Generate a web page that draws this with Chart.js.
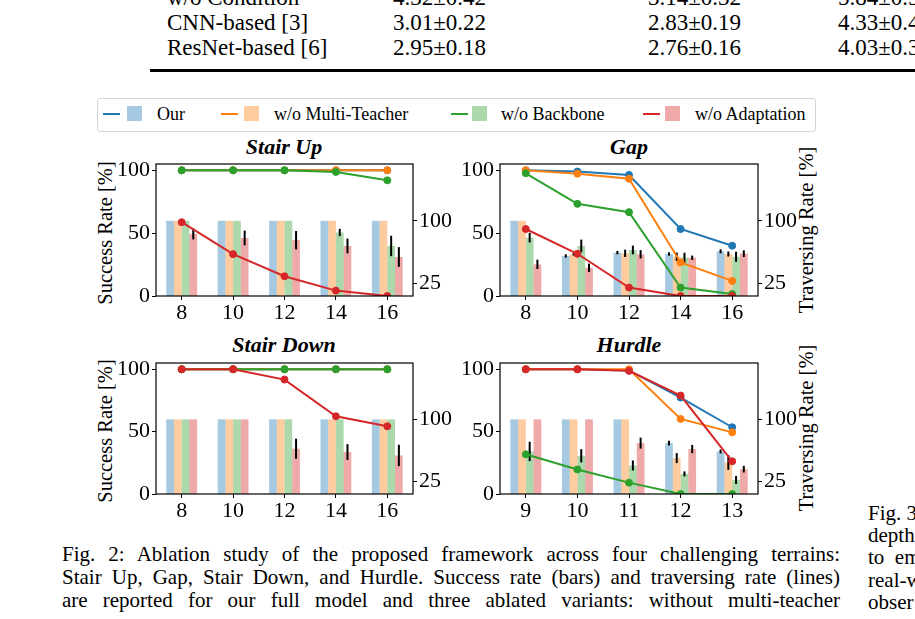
<!DOCTYPE html>
<html>
<head>
<meta charset="utf-8">
<script src="https://cdn.jsdelivr.net/npm/chart.js@4.4.1/dist/chart.umd.min.js"></script>
<style>
  html, body { margin:0; padding:0; background:#fff; }
  body { width:915px; height:619px; overflow:hidden; position:relative; font-family:'Liberation Serif','Times New Roman',serif; color:#000; }
  .abs { position:absolute; white-space:nowrap; }
  .ttl { position:absolute; white-space:nowrap; font-style:italic; font-weight:bold; font-size:22px; transform:translate(-50%,-50%); }
  .ylab { position:absolute; white-space:nowrap; font-size:20.5px; transform:translate(-50%,-50%) rotate(-90deg); }
  .cell { position:absolute; white-space:nowrap; font-size:23px; line-height:25px; }
  .cap { position:absolute; left:62px; width:778px; font-size:21px; line-height:23px; text-align:justify; text-align-last:justify; white-space:nowrap; }
  .side { position:absolute; left:868px; font-size:21px; line-height:22px; white-space:nowrap; }
  canvas { position:absolute; }
  .lg-line { position:absolute; height:2px; width:17px; }
  .lg-sq { position:absolute; width:15px; height:15px; }
  .lg-txt { position:absolute; font-size:18px; line-height:20px; white-space:nowrap; }
</style>
</head>
<body>

<!-- table fragment -->
<div class="cell" style="left:167px; top:-15px;">w/o Condition</div>
<div class="cell" style="left:393px; top:-15px;">4.32±0.42</div>
<div class="cell" style="left:648px; top:-15px;">3.14±0.32</div>
<div class="cell" style="left:838px; top:-15px;">5.84±0.5</div>
<div class="cell" style="left:167px; top:10px;">CNN-based [3]</div>
<div class="cell" style="left:393px; top:10px;">3.01±0.22</div>
<div class="cell" style="left:648px; top:10px;">2.83±0.19</div>
<div class="cell" style="left:838px; top:10px;">4.33±0.4</div>
<div class="cell" style="left:167px; top:35px;">ResNet-based [6]</div>
<div class="cell" style="left:393px; top:35px;">2.95±0.18</div>
<div class="cell" style="left:648px; top:35px;">2.76±0.16</div>
<div class="cell" style="left:838px; top:35px;">4.03±0.3</div>
<div class="abs" style="left:150px; top:69px; width:765px; height:3px; background:#000;"></div>

<!-- legend -->
<div class="abs" style="left:97px; top:98px; width:717px; height:32px; border:1px solid #d6d6d6; border-radius:3px;"></div>
<div id="legend"></div>

<!-- subplot titles -->
<div class="ttl" style="left:284px; top:147px;">Stair Up</div>
<div class="ttl" style="left:629px; top:147px;">Gap</div>
<div class="ttl" style="left:284px; top:345px;">Stair Down</div>
<div class="ttl" style="left:629px; top:345px;">Hurdle</div>

<!-- axis titles -->
<div class="ylab" style="left:105px; top:233px;">Success Rate [%]</div>
<div class="ylab" style="left:105px; top:431px;">Success Rate [%]</div>
<div class="ylab" style="left:806px; top:230px;">Traversing Rate [%]</div>
<div class="ylab" style="left:806px; top:428px;">Traversing Rate [%]</div>

<canvas id="c0" width="367" height="182" style="left:96px; top:144px;"></canvas>
<canvas id="c1" width="368" height="182" style="left:440px; top:144px;"></canvas>
<canvas id="c2" width="367" height="181" style="left:96px; top:343px;"></canvas>
<canvas id="c3" width="368" height="181" style="left:440px; top:343px;"></canvas>

<!-- caption -->
<div class="cap" style="top:543px;">Fig. 2: Ablation study of the proposed framework across four challenging terrains:</div>
<div class="cap" style="top:566px;">Stair Up, Gap, Stair Down, and Hurdle. Success rate (bars) and traversing rate (lines)</div>
<div class="cap" style="top:589px;">are reported for our full model and three ablated variants: without multi-teacher</div>

<div class="side" style="top:502px;">Fig. 3</div>
<div class="side" style="top:524px;">depth</div>
<div class="side" style="top:546px;">to&nbsp;&nbsp;em</div>
<div class="side" style="top:569px;">real-w</div>
<div class="side" style="top:591px;">obser</div>

<script>
// ---------------- DATA ----------------
const seriesNames = ['Our', 'w/o Multi-Teacher', 'w/o Backbone', 'w/o Adaptation'];
const terrainNames = ['Stair Up', 'Gap', 'Stair Down', 'Hurdle'];
const stepLabels = ['8', '10', '12', '14', '16'];
const hurdleLabels = ['9', '10', '11', '12', '13'];
const successTicks = [0, 50, 100];
const traverseTicks = [25, 100];

// traversing rate (lines), one row per series
const stairUpLines = [
  [100, 100, 100, 100, 100],
  [100, 100, 100, 100, 100],
  [100, 100, 100, 98.7, 92],
  [58.7, 33.3, 15.7, 4.3, 0]
];
const gapLines = [
  [100, 99, 96.3, 53.3, 40],
  [100, 97.3, 93.3, 26.7, 12],
  [97.6, 73.3, 66.7, 6.7, 1.6],
  [53.3, 33.6, 6.7, 0, 0]
];
const stairDownLines = [
  [100, 100, 100, 100, 100],
  [100, 100, 100, 100, 100],
  [100, 100, 100, 100, 100],
  [100, 100, 91.7, 62.3, 54.3]
];
const hurdleLines = [
  [100, 100, 99, 77.3, 53.5],
  [100, 100, 100, 60.2, 49.4],
  [31.8, 19.7, 9.1, 0, 0],
  [100, 100, 98.7, 78.9, 26.2]
];

// success rate (bars)
const stairUpBars = [
  [100, 100, 100, 100, 100],
  [100, 100, 100, 100, 100],
  [100, 100, 100, 86, 69.9],
  [84.3, 79.5, 76.8, 69.9, 56.7]
];
const gapBars = [
  [100, 57.9, 61.9, 60.3, 63.5],
  [100, 59.9, 61.1, 57, 60.3],
  [79.9, 69.9, 65.1, 55.8, 57],
  [47.9, 43.8, 59.9, 55.8, 60.7]
];
const stairDownBars = [
  [100, 100, 100, 100, 100],
  [100, 100, 100, 100, 100],
  [100, 100, 100, 100, 100],
  [100, 100, 64.6, 60.6, 56.5]
];
const hurdleBars = [
  [100, 100, 100, 71.4, 61.3],
  [100, 100, 100, 53.3, 48],
  [61.3, 56.1, 44.4, 34.3, 27],
  [100, 100, 71.4, 64.2, 40]
];

// error (± half-length) on bars
const stairUpErr = [
  [0, 0, 0, 0, 0],
  [0, 0, 0, 0, 0],
  [0, 0, 0, 4.4, 12.2],
  [6.6, 8.8, 11, 8.8, 11.8]
];
const gapErr = [
  [0, 2, 2, 2, 2.4],
  [0, 1.5, 4.4, 5, 3],
  [5.8, 7.6, 5.2, 6, 6],
  [5.6, 5, 5, 2.6, 4]
];
const stairDownErr = [
  [0, 0, 0, 0, 0],
  [0, 0, 0, 0, 0],
  [0, 0, 0, 0, 0],
  [0, 0, 12.1, 9.5, 12.9]
];
const hurdleErr = [
  [0, 0, 0, 2.8, 2.4],
  [0, 0, 0, 6, 8.9],
  [11.7, 8, 6, 3, 4.8],
  [0, 0, 6.6, 5, 4]
];

// ---------------- STYLE ----------------
const lineColors = ['#1f77b4', '#ff7f0e', '#2ca02c', '#d62728'];
const barColors = ['rgba(31,119,180,0.4)', 'rgba(255,127,14,0.4)', 'rgba(44,160,44,0.4)', 'rgba(214,39,40,0.4)'];
const TICK_FONT = 22;

Chart.defaults.font.family = "'Liberation Serif','Times New Roman',serif";
Chart.defaults.font.size = TICK_FONT;
Chart.defaults.color = '#000';
Chart.defaults.animation = false;

// legend (HTML)
const legendPos = [[103, 127, 157], [221, 244, 274], [451, 472, 501], [643, 665, 695]];
const lg = document.getElementById('legend');
seriesNames.forEach((name, k) => {
  const [lx, sx, tx] = legendPos[k];
  lg.insertAdjacentHTML('beforeend',
    `<div class="lg-line" style="left:${lx}px;top:113px;background:${lineColors[k]}"></div>` +
    `<div class="lg-sq" style="left:${sx}px;top:106px;background:${barColors[k]}"></div>` +
    `<div class="lg-txt" style="left:${tx}px;top:104px">${name}</div>`);
});

const frameAndErrors = {
  id: 'frameAndErrors',
  afterDatasetDraw(chart, args) {
    const ds = chart.data.datasets[args.index];
    if (!ds.errors) return;
    const a = chart.chartArea, y2 = chart.scales.y2, ctx = chart.ctx;
    ctx.save();
    ctx.beginPath(); ctx.rect(a.left, a.top, a.right - a.left, a.bottom - a.top); ctx.clip();
    ctx.strokeStyle = '#000'; ctx.lineWidth = 2;
    args.meta.data.forEach((bar, i) => {
      const e = ds.errors[i];
      if (!e) return;
      const v = ds.data[i];
      ctx.beginPath();
      ctx.moveTo(bar.x, y2.getPixelForValue(v - e));
      ctx.lineTo(bar.x, y2.getPixelForValue(v + e));
      ctx.stroke();
    });
    ctx.restore();
  },
  afterDraw(chart) {
    const a = chart.chartArea, ctx = chart.ctx;
    ctx.save();
    ctx.strokeStyle = '#000'; ctx.lineWidth = 1.2;
    ctx.strokeRect(a.left, a.top, a.right - a.left, a.bottom - a.top);
    ctx.restore();
  }
};

function makeChart(id, labels, lines, bars, errs) {
  const datasets = [];
  lines.forEach((d, k) => datasets.push({
    type: 'line', label: seriesNames[k], data: d, yAxisID: 'y',
    borderColor: lineColors[k], backgroundColor: lineColors[k],
    pointBackgroundColor: lineColors[k], pointBorderColor: lineColors[k],
    borderWidth: 2, pointRadius: 3.5, pointBorderWidth: 1, tension: 0, order: 3 - k
  }));
  bars.forEach((d, k) => datasets.push({
    type: 'bar', label: seriesNames[k], data: d, yAxisID: 'y2', errors: errs[k],
    backgroundColor: barColors[k], borderWidth: 0,
    categoryPercentage: 0.6, barPercentage: 1.0, order: 10 + k
  }));
  const tickGrid = { display: true, drawOnChartArea: false, drawTicks: true, tickLength: 4, color: '#000', lineWidth: 1, offset: false };
  return new Chart(document.getElementById(id), {
    type: 'bar',
    data: { labels, datasets },
    options: {
      responsive: false, devicePixelRatio: 1, animation: false,
      layout: { padding: { top: 20, left: 0, right: 0, bottom: 0 } },
      plugins: { legend: { display: false }, tooltip: { enabled: false }, title: { display: false } },
      scales: {
        x: {
          type: 'category', offset: true, grid: tickGrid, border: { display: false },
          ticks: { padding: 0, color: '#000', maxRotation: 0, autoSkip: false, font: { size: TICK_FONT } },
          afterFit(s) { s.height = 30; }
        },
        y: {
          position: 'left', min: 0, max: 105, grid: tickGrid, border: { display: false },
          ticks: { padding: 2, color: '#000', font: { size: TICK_FONT } },
          afterBuildTicks(s) { s.ticks = successTicks.map(v => ({ value: v })); },
          afterFit(s) { s.width = 60; }
        },
        y2: {
          position: 'right', min: 10, max: 168, grid: tickGrid, border: { display: false },
          ticks: { padding: 2, color: '#000', font: { size: TICK_FONT } },
          afterBuildTicks(s) { s.ticks = traverseTicks.map(v => ({ value: v })); },
          afterFit(s) { s.width = 50; }
        }
      }
    },
    plugins: [frameAndErrors]
  });
}

makeChart('c0', stepLabels, stairUpLines, stairUpBars, stairUpErr);
makeChart('c1', stepLabels, gapLines, gapBars, gapErr);
makeChart('c2', stepLabels, stairDownLines, stairDownBars, stairDownErr);
makeChart('c3', hurdleLabels, hurdleLines, hurdleBars, hurdleErr);
</script>
</body>
</html>
